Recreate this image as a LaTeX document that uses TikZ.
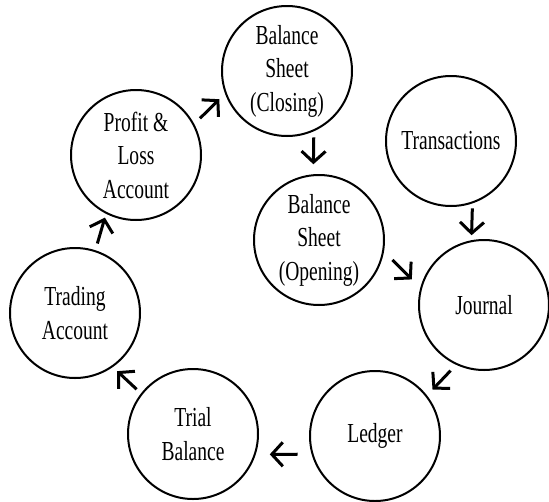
\documentclass[tikz,border=0pt]{standalone}
\usepackage{fontspec}
\setmainfont{Liberation Serif}[FakeStretch=0.71]
\usetikzlibrary{arrows.meta}

\begin{document}
\begin{tikzpicture}[x=1pt, y=-1pt,
		stage/.style={draw, circle, line width=2pt, minimum size=130pt, inner sep=0pt, align=center, font=\fontsize{27.5}{33.5}\selectfont},
		flow/.style={-{Straight Barb[length=11pt, width=24pt]}, line width=3pt, shorten <=#1, shorten >=#1},
		flow/.default=8pt]
		\useasboundingbox (0,0) rectangle (549,501);
		\node[stage] (bsclose) at (287,71) {Balance\\Sheet\\(Closing)};
		\node[stage] (trans) at (451,141) {Transactions};
		\node[stage] (pl) at (136,155) {Profit \&\\Loss\\Account};
		\node[stage] (bsopen) at (319,240) {Balance\\Sheet\\(Opening)};
		\node[stage] (journal) at (484,305) {Journal};
		\node[stage] (trading) at (75,313) {Trading\\Account};
		\node[stage] (trial) at (193,434) {Trial\\Balance};
		\node[stage] (ledger) at (375,436) {Ledger};
		\draw[flow=5pt] (trans.289) -- (journal.101);
		\draw[flow, shorten <=6pt, shorten >=10pt] (bsclose.294) -- (bsopen.95);
		\draw[flow=12pt] (bsopen.350) -- (journal.165);
		\draw[flow] (journal.245) -- (ledger.38);
		\draw[flow=14pt] (ledger.196) -- (trial.342);
		\draw[flow=6pt] (trial.142) -- (trading.305);
		\draw[flow, shorten <=7pt, shorten >=4pt] (trading.72) -- (pl.243);
		\draw[flow] (pl.28) -- (bsclose.200);
	\end{tikzpicture}
\end{document}
